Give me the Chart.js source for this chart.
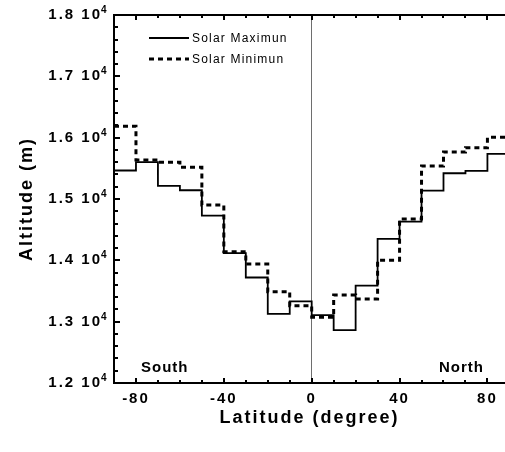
<!DOCTYPE html>
<html>
<head>
<meta charset="utf-8">
<script src="https://cdn.jsdelivr.net/npm/chart.js@4.4.1/dist/chart.umd.min.js"></script>
<style>
  html, body { margin: 0; padding: 0; background: #fff; }
  #wrap { width: 505px; height: 452px; position: relative; }
</style>
</head>
<body>
<div id="wrap"><canvas id="c"></canvas></div>
<script>
// ---- data ----
const binStarts = [-90, -80, -70, -60, -50, -40, -30, -20, -10, 0, 10, 20, 30, 40, 50, 60, 70, 80];
const binEnd = 90;
const solarMaxAltitude = [15465, 15600, 15213, 15143, 14730, 14116, 13720, 13128, 13330, 13108, 12862, 13588, 14350, 14632, 15135, 15420, 15458, 15735];
const solarMinAltitude = [16185, 15637, 15598, 15517, 14902, 14141, 13940, 13489, 13258, 13071, 13435, 13370, 14000, 14674, 15538, 15766, 15837, 16006];
const xTickValues = [-80, -40, 0, 40, 80];
const yTickValues = [12000, 13000, 14000, 15000, 16000, 17000, 18000];
const yTickExponent = '4';
const seriesLabels = ['Solar Maximun', 'Solar Minimun'];

function stepPoints(vals) {
  const pts = binStarts.map((x, i) => ({ x: x, y: vals[i] }));
  pts.push({ x: binEnd, y: vals[vals.length - 1] });
  return pts;
}

const FONT = "'Liberation Sans', Arial, Helvetica, sans-serif";

const spacingPlugin = {
  id: 'spacing',
  beforeDraw(chart) { chart.ctx.letterSpacing = '2px'; },
  afterDraw(chart) { chart.ctx.letterSpacing = '0px'; }
};

const framePlugin = {
  id: 'frame',
  afterDatasetsDraw(chart) {
    const ctx = chart.ctx;
    const a = chart.chartArea;
    const xs = chart.scales.x, ys = chart.scales.y;
    ctx.save();
    ctx.letterSpacing = '0px';
    ctx.strokeStyle = '#000';
    // top border
    ctx.lineWidth = 2;
    ctx.beginPath();
    ctx.moveTo(a.left - 1, a.top);
    ctx.lineTo(a.right, a.top);
    ctx.stroke();
    // inner ticks on y axis
    ctx.lineWidth = 2;
    for (let v = 12000; v <= 18000; v += 200) {
      const y = Math.round(ys.getPixelForValue(v));
      const len = (v % 1000 === 0) ? 6 : 4;
      ctx.beginPath();
      ctx.moveTo(a.left, y);
      ctx.lineTo(a.left + len, y);
      ctx.stroke();
    }
    // inner ticks on top / bottom axis
    for (let lat = -80; lat <= 80; lat += 10) {
      const x = Math.round(xs.getPixelForValue(lat));
      const len = (lat % 40 === 0) ? 5 : 3;
      ctx.beginPath();
      ctx.moveTo(x, a.top);
      ctx.lineTo(x, a.top + len);
      ctx.moveTo(x, a.bottom);
      ctx.lineTo(x, a.bottom - len);
      ctx.stroke();
    }
    // exponent superscripts on y tick labels
    ctx.fillStyle = '#000';
    ctx.font = 'bold 10px ' + FONT;
    ctx.textAlign = 'left';
    ctx.textBaseline = 'alphabetic';
    yTickValues.forEach(v => {
      const y = ys.getPixelForValue(v);
      ctx.fillText(yTickExponent, a.left - 13, y - 2);
    });
    // region labels
    ctx.font = 'bold 15px ' + FONT;
    ctx.letterSpacing = '1px';
    ctx.textBaseline = 'alphabetic';
    ctx.textAlign = 'left';
    ctx.fillText('South', a.left + 27, 372);
    ctx.textAlign = 'right';
    ctx.fillText('North', a.right - 21, 372);
    // legend
    const ds = chart.data.datasets;
    const rows = [38, 59];
    ctx.font = '12px ' + FONT;
    ctx.textAlign = 'left';
    ctx.textBaseline = 'middle';
    ctx.letterSpacing = '1.2px';
    ds.forEach((d, i) => {
      const y = rows[i];
      ctx.save();
      ctx.letterSpacing = '0px';
      ctx.strokeStyle = d.borderColor;
      ctx.lineWidth = d.borderWidth;
      ctx.setLineDash(d.borderDash || []);
      ctx.beginPath();
      ctx.moveTo(149, y);
      ctx.lineTo(189, y);
      ctx.stroke();
      ctx.restore();
      ctx.fillText(d.label, 192, y + 1);
    });
    ctx.restore();
  }
};

new Chart(document.getElementById('c'), {
  type: 'line',
  data: {
    datasets: [
      {
        label: seriesLabels[0],
        data: stepPoints(solarMaxAltitude),
        stepped: 'before',
        borderColor: '#000',
        borderWidth: 1.8,
        pointRadius: 0,
        fill: false
      },
      {
        label: seriesLabels[1],
        data: stepPoints(solarMinAltitude),
        stepped: 'before',
        borderColor: '#000',
        borderWidth: 3,
        borderDash: [5, 4],
        pointRadius: 0,
        fill: false
      }
    ]
  },
  options: {
    responsive: true,
    maintainAspectRatio: false,
    animation: false,
    layout: { padding: { left: 0, right: 0, top: 15, bottom: 0 } },
    plugins: { legend: { display: false }, tooltip: { enabled: false } },
    scales: {
      x: {
        type: 'linear',
        min: -90,
        max: 88,
        afterBuildTicks: (s) => { s.ticks = xTickValues.map(v => ({ value: v })); },
        afterFit: (s) => { s.height = 69; s.paddingLeft = 0; s.paddingRight = 0; },
        border: { display: true, color: '#000', width: 2 },
        grid: {
          drawTicks: false,
          drawOnChartArea: true,
          lineWidth: 1,
          color: (c) => (c.tick && c.tick.value === 0) ? '#6e6e6e' : 'rgba(0,0,0,0)'
        },
        ticks: {
          color: '#000',
          padding: 7,
          maxRotation: 0,
          font: { family: FONT, size: 15, weight: 'bold' },
          callback: (v) => String(v)
        },
        title: {
          display: true,
          text: 'Latitude (degree)',
          color: '#000',
          font: { family: FONT, size: 18, weight: 'bold' },
          padding: { top: 0, bottom: 23 }
        }
      },
      y: {
        type: 'linear',
        min: 12000,
        max: 18000,
        afterBuildTicks: (s) => { s.ticks = yTickValues.map(v => ({ value: v })); },
        afterFit: (s) => { s.width = 114; s.paddingTop = 0; s.paddingBottom = 0; },
        border: { display: true, color: '#000', width: 2 },
        grid: { display: false, drawTicks: false },
        ticks: {
          color: '#000',
          padding: 12,
          font: { family: FONT, size: 15, weight: 'bold' },
          callback: (v) => (v / 10000).toFixed(1) + ' 10'
        },
        title: {
          display: true,
          text: 'Altitude (m)',
          color: '#000',
          font: { family: FONT, size: 18, weight: 'bold' },
          padding: { top: 16, bottom: 0 }
        }
      }
    }
  },
  plugins: [spacingPlugin, framePlugin]
});
</script>
</body>
</html>
